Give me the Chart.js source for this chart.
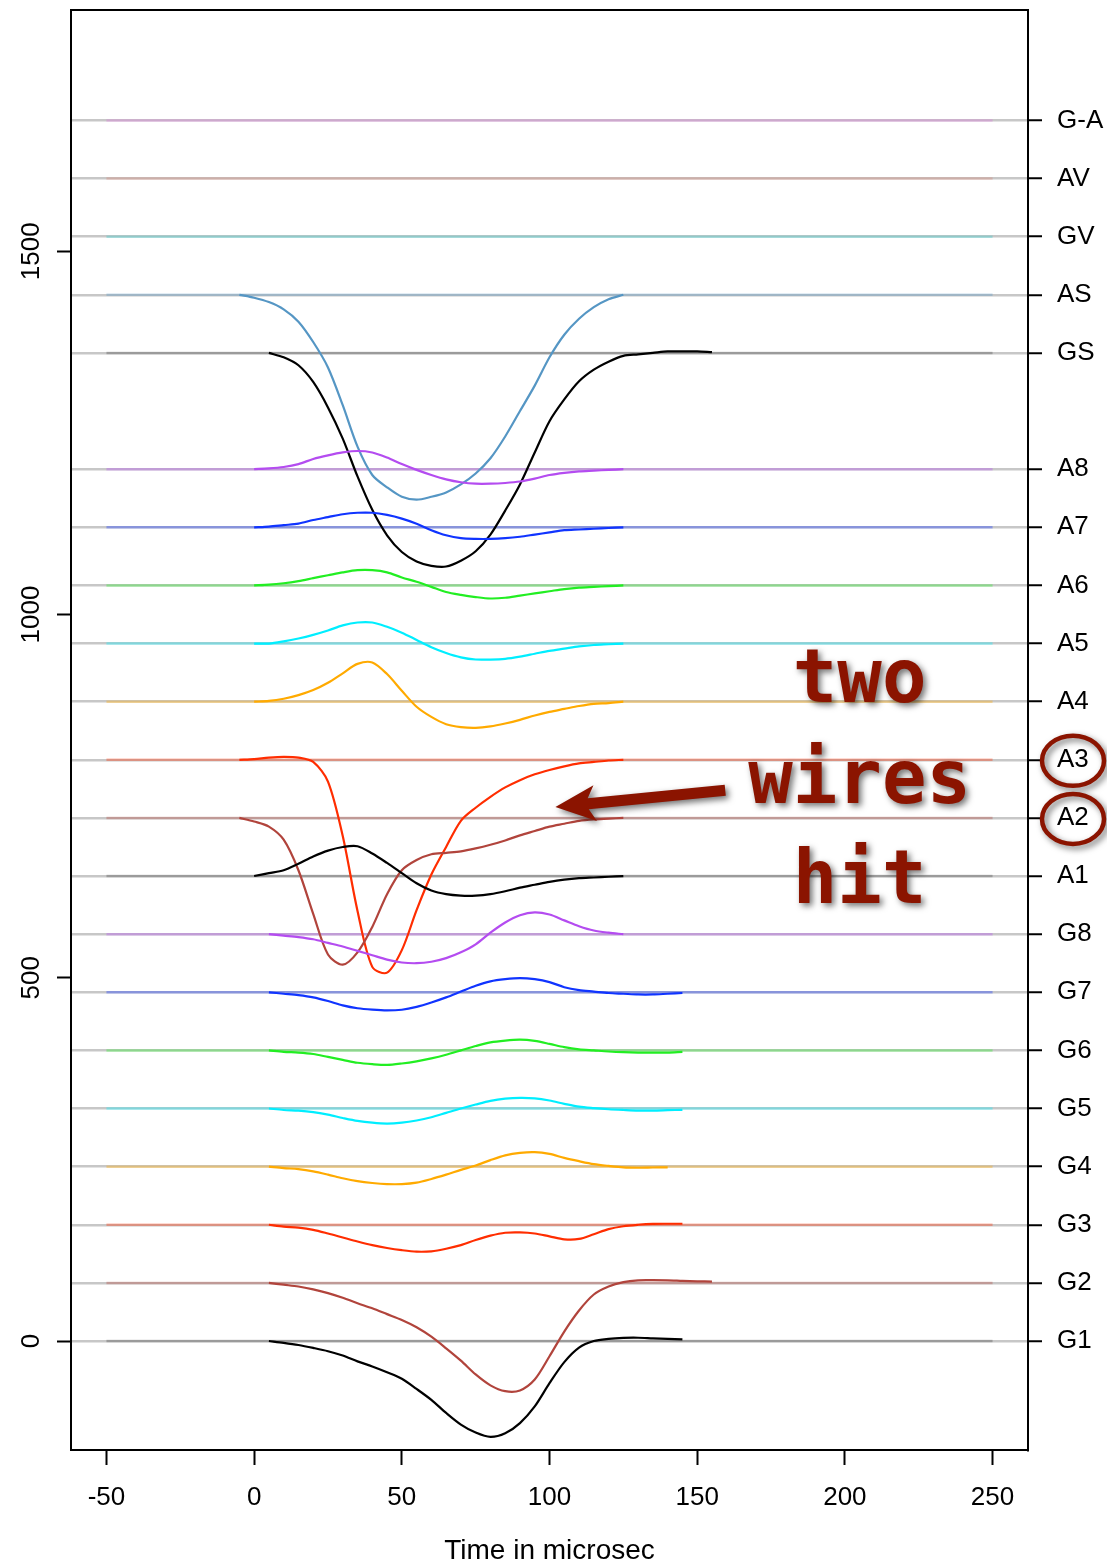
<!DOCTYPE html>
<html>
<head>
<meta charset="utf-8">
<title>Wire signals</title>
<script src="https://cdn.jsdelivr.net/npm/chart.js@4.4.1/dist/chart.umd.min.js"></script>
<style>
  html, body { margin: 0; padding: 0; background: #fff; }
  canvas { display: block; }
</style>
</head>
<body>
<canvas id="wiresChart" width="1107" height="1565"></canvas>
<script>
// time axis of the sampled traces, in microseconds
const timeUs = [-5, 0, 5, 10, 15, 20, 25, 30, 35, 40, 45, 50, 55, 60, 65, 70, 75, 80, 85, 90, 95, 100, 105, 110, 115, 120, 125, 130, 135, 140, 145, 150, 155];

// each trace is its deviation from the channel baseline (null = no sample)
const sigG1 = [null, null, 0, -2.5, -5.5, -9.5, -14, -20, -28, -35, -43, -52, -66, -81, -99, -115, -126, -132, -127, -113, -90, -58, -29, -9, 0, 3, 4.3, 4.5, 3.7, 3, 2.3, null, null];
const sigG2 = [null, null, 0, -2.5, -5, -9, -14, -20.5, -28, -35, -43, -51, -61, -74, -90, -107, -126, -141, -149, -148, -133, -101, -67, -38, -16, -5, 1, 3.5, 3.7, 3.5, 2.8, 2.2, 1.8];
const sigG3 = [null, null, 0, -2.5, -4, -7, -12, -17.5, -23, -28, -32, -35, -37, -36.5, -33, -28, -21, -15, -11, -10.5, -12, -16, -20, -19.5, -13, -6, -2, 0, 1.2, 1.4, 1.4, null, null];
const sigG4 = [null, null, 0, -2, -3.5, -6.5, -11, -16, -20, -22.5, -24, -24, -22, -17, -11, -4.5, 1.5, 9, 15.5, 19, 20, 17.5, 12, 7.5, 3.5, 1, -1, -1.5, -1.2, -1, null, null, null];
const sigG5 = [null, null, 0, -2, -3, -5, -8.5, -13, -17, -19.5, -20.7, -19.5, -16.5, -12, -6, 0, 5.5, 10.5, 13.5, 14.7, 14, 11, 6.5, 2.5, 0.5, -1, -2, -2.8, -2.8, -2.3, -1.8, null, null];
const sigG6 = [null, null, 0, -2, -3, -5, -9, -13, -17, -19, -20, -18, -15, -11, -6, 0, 6, 11, 13.5, 14.7, 13, 9, 4.5, 1.5, 0, -1.5, -2.5, -3, -3, -3, -2, null, null];
const sigG7 = [null, null, 0, -2, -4, -7, -12, -18, -22, -24, -25, -24, -20, -14, -7, 1, 9, 15, 18, 19.5, 18, 14, 7, 3, 1, -1, -2, -3, -3, -2, -1, null, null];
const sigG8 = [null, null, 0, -2, -4, -7, -12, -17, -23, -29, -35, -39, -40, -38, -33, -25, -14, 2, 16, 26, 30, 27, 19, 11, 5, 2, 0, null, null, null, null, null, null];
const sigA1 = [null, 0, 4, 8, 17, 27, 35, 40, 41, 31, 18, 4, -10, -20, -25, -27, -27, -25, -21, -16, -12, -8, -5, -3, -2, -1, 0, null, null, null, null, null, null];
const sigA2 = [0, -5, -12, -30, -72, -132, -188, -202, -185, -150, -105, -72, -58, -50, -48, -46, -42, -37, -31, -24, -18, -12, -8, -4, -2, -1, 0, null, null, null, null, null, null];
const sigA3 = [0, 1, 3, 4, 3, -3, -30, -105, -208, -285, -293, -262, -207, -158, -120, -84, -66, -51, -38, -28, -20, -14, -9, -5, -3, -1, 0, null, null, null, null, null, null];
const sigA4 = [null, 0, 1, 4, 9, 16, 26, 39, 52, 54, 38, 15, -7, -21, -31, -35, -36, -34, -30, -25, -19, -14, -10, -6, -3, -2, 0, null, null, null, null, null, null];
const sigA5 = [null, 0, 0, 3, 7, 12, 18, 25, 29, 29, 23, 15, 5, -5, -13, -19, -22, -22, -21, -18, -14, -10, -7, -4, -2, -1, 0, null, null, null, null, null, null];
const sigA6 = [null, 0, 1, 3, 6, 10, 14, 18, 21, 21, 18, 11, 5, -2, -9, -13, -16, -18, -17, -14, -11, -8, -5, -3, -2, -1, 0, null, null, null, null, null, null];
const sigA7 = [null, 0, 1, 3, 5, 10, 14, 18, 20, 20, 17, 12, 5, -4, -11, -15, -16, -16, -15, -13, -10, -7, -4, -3, -2, -1, 0, null, null, null, null, null, null];
const sigA8 = [null, 0, 1, 3, 7, 14, 19, 23, 25, 23, 16, 7, -1, -8, -14, -18, -20, -20, -19, -17, -13, -8, -5, -3, -2, -1, 0, null, null, null, null, null, null];
const sigGS = [null, null, 0, -6, -17, -40, -75, -118, -170, -216, -251, -274, -287, -293, -294, -286, -273, -250, -217, -181, -137, -94, -64, -39, -23, -12, -4, -2, 0, 2, 2, 2, 1];
const sigAS = [0, -4, -10, -20, -37, -65, -100, -152, -209, -248, -265, -278, -282, -278, -272, -261, -246, -225, -195, -160, -125, -86, -55, -33, -17, -6, 0, null, null, null, null, null, null];

const channelNames = ["G1", "G2", "G3", "G4", "G5", "G6", "G7", "G8", "A1", "A2", "A3", "A4", "A5", "A6", "A7", "A8", "GS", "AS", "GV", "AV", "G-A"];
const baselineOffsets = [0, 80, 160, 240, 320, 400, 480, 560, 640, 720, 800, 880, 960, 1040, 1120, 1200, 1360, 1440, 1520, 1600, 1680];
const channelSignals = [sigG1, sigG2, sigG3, sigG4, sigG5, sigG6, sigG7, sigG8, sigA1, sigA2, sigA3, sigA4, sigA5, sigA6, sigA7, sigA8, sigGS, sigAS, null, null, null];
const channelColors = ["#000000", "#b1443c", "#ff2d00", "#ffaa00", "#00eeff", "#22ee22", "#1034ff", "#b44cf0",
                       "#000000", "#b1443c", "#ff2d00", "#ffaa00", "#00eeff", "#22ee22", "#1034ff", "#b44cf0",
                       "#000000", "#5596c4", "#30c8c8", "#d48070", "#d670d6"];

const xTicks = [-50, 0, 50, 100, 150, 200, 250];
const yTicks = [0, 500, 1000, 1500];
const flatSpan = [-50, 250];

const noteLines = ["two", "wires", "hit"];
const circledChannels = ["A3", "A2"];

const axisFont = '"Liberation Sans", Arial, Helvetica, sans-serif';
const noteColor = "#8b1400";

const toRgba = (hex, a) => {
  const n = parseInt(hex.slice(1), 16);
  return `rgba(${(n >> 16) & 255}, ${(n >> 8) & 255}, ${n & 255}, ${a})`;
};

// faint colored zero line of every channel, under the traces
const flatSets = channelNames.map((name, i) => ({
  label: name + " zero",
  data: flatSpan.map((t) => ({ x: t, y: baselineOffsets[i] })),
  borderColor: toRgba(channelColors[i], channelColors[i] === "#000000" ? 0.22 : 0.35),
  borderWidth: 2.5,
  pointRadius: 0,
  order: 2,
}));

const traceSets = channelNames
  .map((name, i) => {
    const sig = channelSignals[i];
    if (!sig) return null;
    return {
      label: name,
      data: timeUs
        .map((t, k) => (sig[k] === null ? null : { x: t, y: baselineOffsets[i] + sig[k] }))
        .filter(Boolean),
      borderColor: channelColors[i],
      borderWidth: 2.2,
      pointRadius: 0,
      tension: 0.3,
      order: 1,
    };
  })
  .filter(Boolean);

const frameAndNotes = {
  id: "frameAndNotes",
  afterDraw(chart) {
    const { ctx, chartArea: area, scales } = chart;
    const xs = scales.x;
    const ys = scales.y;
    ctx.save();
    ctx.strokeStyle = "#000";
    ctx.lineWidth = 2;
    ctx.strokeRect(area.left, area.top, area.right - area.left, area.bottom - area.top);

    ctx.shadowColor = "rgba(0, 0, 0, 0.55)";
    ctx.shadowBlur = 6;
    ctx.shadowOffsetX = 3;
    ctx.shadowOffsetY = 3;
    ctx.fillStyle = noteColor;
    ctx.strokeStyle = noteColor;

    // "two wires hit"
    ctx.font = 'bold 74px "DejaVu Sans Mono", monospace';
    ctx.textAlign = "center";
    ctx.textBaseline = "alphabetic";
    const noteX = xs.getPixelForValue(205);
    [880, 740, 603].forEach((v, i) => ctx.fillText(noteLines[i], noteX, ys.getPixelForValue(v)));

    // arrow pointing at the A3 trace
    const x0 = xs.getPixelForValue(159.5);
    const y0 = ys.getPixelForValue(758);
    const x1 = xs.getPixelForValue(102);
    const y1 = ys.getPixelForValue(735);
    const len = Math.hypot(x1 - x0, y1 - y0);
    ctx.save();
    ctx.translate(x1, y1);
    ctx.rotate(Math.atan2(y1 - y0, x1 - x0));
    ctx.beginPath();
    ctx.moveTo(0, 0);
    ctx.lineTo(-40, -18);
    ctx.lineTo(-33, -5.5);
    ctx.lineTo(-len, -5.5);
    ctx.lineTo(-len, 5.5);
    ctx.lineTo(-33, 5.5);
    ctx.lineTo(-40, 18);
    ctx.closePath();
    ctx.fill();
    ctx.restore();

    // rings round the two hit wire labels
    ctx.lineWidth = 4.5;
    circledChannels.forEach((name) => {
      const cy = scales.yr.getPixelForValue(baselineOffsets[channelNames.indexOf(name)]);
      ctx.beginPath();
      ctx.ellipse(area.right + 45, cy + 1, 31, 25, 0, 0, Math.PI * 2);
      ctx.stroke();
    });
    ctx.restore();
  },
};

const tickFont = { family: axisFont, size: 26 };

new Chart(document.getElementById("wiresChart"), {
  type: "line",
  data: { datasets: [...traceSets, ...flatSets] },
  options: {
    responsive: false,
    animation: false,
    events: [],
    layout: { padding: { top: 10, left: 0, right: 0, bottom: 0 } },
    plugins: { legend: { display: false }, tooltip: { enabled: false } },
    scales: {
      x: {
        type: "linear",
        position: "bottom",
        min: -62,
        max: 262,
        afterBuildTicks: (scale) => { scale.ticks = xTicks.map((v) => ({ value: v })); },
        afterFit: (scale) => { scale.height = 115; scale.paddingLeft = 0; scale.paddingRight = 0; },
        grid: { drawOnChartArea: false, drawTicks: true, tickLength: 15, tickColor: "#000", tickWidth: 2 },
        border: { display: true, color: "#000", width: 2 },
        ticks: { autoSkip: false, maxRotation: 0, padding: 17, color: "#000", font: tickFont, callback: (v) => String(v) },
        title: { display: true, text: "Time in microsec", color: "#000", font: { family: axisFont, size: 28 }, padding: { top: 0, bottom: -3 } },
      },
      y: {
        type: "linear",
        position: "left",
        min: -150,
        max: 1832,
        afterBuildTicks: (scale) => { scale.ticks = yTicks.map((v) => ({ value: v })); },
        afterFit: (scale) => { scale.width = 71; scale.paddingTop = 0; scale.paddingBottom = 0; },
        grid: { drawOnChartArea: false, drawTicks: true, tickLength: 14, tickColor: "#000", tickWidth: 2 },
        border: { display: true, color: "#000", width: 2 },
        ticks: { autoSkip: false, minRotation: 90, maxRotation: 90, crossAlign: "center", padding: -4, color: "#000", font: tickFont, callback: (v) => String(v) },
      },
      yr: {
        type: "linear",
        position: "right",
        min: -150,
        max: 1832,
        afterBuildTicks: (scale) => { scale.ticks = baselineOffsets.map((v) => ({ value: v })); },
        afterFit: (scale) => { scale.width = 79; scale.paddingTop = 0; scale.paddingBottom = 0; },
        grid: { drawOnChartArea: true, color: "rgba(196, 196, 196, 0.95)", lineWidth: 2.5, drawTicks: true, tickLength: 14, tickColor: "#000", tickWidth: 2 },
        border: { display: true, color: "#000", width: 2 },
        ticks: {
          autoSkip: false,
          padding: 15,
          color: "#000",
          font: tickFont,
          callback: (value) => channelNames[baselineOffsets.indexOf(value)],
        },
      },
    },
  },
  plugins: [frameAndNotes],
});
</script>
</body>
</html>
